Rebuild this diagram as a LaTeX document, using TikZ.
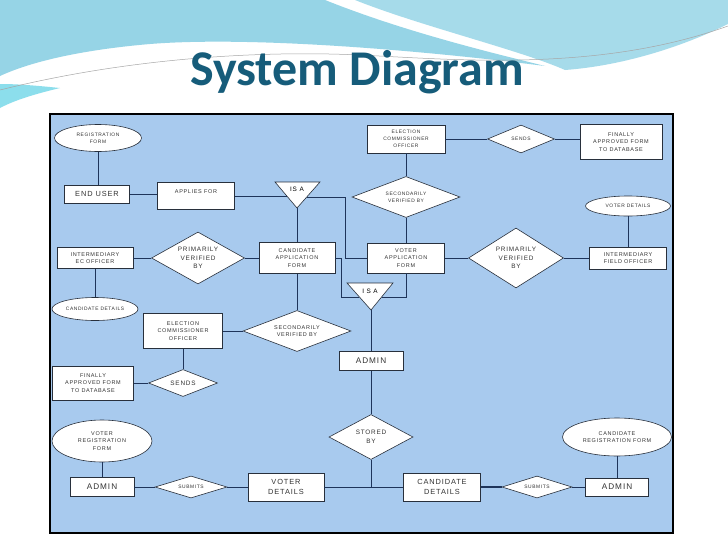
\documentclass[tikz,border=0pt]{standalone}
\usepackage{fontspec}
\setmainfont{Liberation Sans}
\newfontfamily\titlefont{Carlito}
\newfontfamily\boxfont[LetterSpace=12]{Liberation Sans}
\usetikzlibrary{shapes.geometric,calc}

\newcommand\lblfont[2]{\boxfont\fontsize{#1}{#2}\selectfont}

\definecolor{panelblue}{RGB}{168,202,238}
\definecolor{titleteal}{RGB}{22,92,122}
\definecolor{wavelight}{RGB}{150,212,230}
\definecolor{wavecyan}{RGB}{140,222,236}
\definecolor{linknavy}{RGB}{30,52,90}
\definecolor{boxedge}{RGB}{40,48,60}

\begin{document}
\begin{tikzpicture}[x=1pt,y=-1pt]
	\tikzset{
		ent/.style={rectangle, draw=boxedge, fill=white, line width=0.6pt, inner sep=0, align=center, text=black!80},
		rel/.style={diamond, draw=boxedge, fill=white, line width=0.6pt, inner sep=0, align=center, text=black!80},
		attr/.style={ellipse, draw=boxedge, fill=white, line width=0.6pt, inner sep=0, align=center, text=black!80},
		tri/.style={draw=boxedge, fill=white, line width=0.6pt},
		link/.style={draw=linknavy, line width=0.9pt},
		txtxs/.style={font=\lblfont{4.9}{6.8}},
		txts/.style={font=\lblfont{5.5}{7.5}},
		txtm/.style={font=\lblfont{6.4}{8.7}},
		txtl/.style={font=\lblfont{7.4}{9.6}},
		txtxl/.style={font=\lblfont{8.2}{10}},
	}
	\useasboundingbox (0,0) rectangle (728,546);

	% slide background
	\fill[white] (0,0) rectangle (728,546);
	\fill[wavelight] (0,0) -- (325,0) .. controls (400,30) and (480,50) .. (545,66)
		.. controls (420,50) and (250,36) .. (150,44) .. controls (80,50) and (30,62) .. (0,76) -- cycle;
	\fill[wavelight!85!white] (355,0) -- (728,0) -- (728,24) .. controls (680,48) and (620,66) .. (565,70)
		.. controls (520,50) and (420,26) .. (355,0) -- cycle;
	\fill[wavecyan] (0,84) .. controls (20,84) and (40,86) .. (60,88) .. controls (35,94) and (15,100) .. (0,108) -- cycle;
	\draw[gray!70, line width=0.5pt] (0,90) .. controls (120,60) and (250,50) .. (360,55)
		.. controls (460,60) and (600,72) .. (728,26);

	\node[font=\titlefont\bfseries\fontsize{50}{60}\selectfont, text=titleteal] (title) at (357,72) {System Diagram};

	% panel
	\draw[line width=2.8pt, fill=panelblue] (50,114) rectangle (673,533);

	% top row
	\node[attr, txtxs, minimum width=87, minimum height=27] (regform) at (98,138) {REGISTRATION\\FORM};
	\node[ent, txtl, minimum width=65, minimum height=18] (enduser) at (97,194) {END USER};
	\node[ent, txts, minimum width=77, minimum height=27, text depth=8pt] (applies) at (196,196) {APPLIES FOR};
	\node[ent, txtxs, minimum width=78, minimum height=28] (eco1) at (406,139) {ELECTION\\COMMISSIONER\\OFFICER};
	\node[rel, txtxs, minimum width=67, minimum height=28, aspect=2.4] (sends1) at (521,139) {SENDS};
	\node[ent, txts, minimum width=82, minimum height=35] (final1) at (621,142) {FINALLY\\APPROVED FORM\\TO DATABASE};
	\node[rel, txtxs, minimum width=108, minimum height=41, aspect=2.6] (secver1) at (406,197) {SECONDARILY\\VERIFIED BY};
	\node[attr, txtxs, minimum width=85, minimum height=20] (voterdet) at (628,206) {VOTER DETAILS};

	% IS A (upper)
	\coordinate (isa1tl) at (275,182);
	\coordinate (isa1tr) at (320,182);
	\coordinate (isa1b) at (297,208);
	\filldraw[tri] (isa1tl) -- (isa1tr) -- (isa1b) -- cycle;
	\node[txtm] (isa1) at (297,189) {IS A};
	\coordinate (isa1w) at ($(isa1tl)!0.54!(isa1b)$);
	\coordinate (isa1e) at ($(isa1tr)!0.58!(isa1b)$);

	% middle row
	\node[ent, txts, minimum width=76, minimum height=21] (ieco) at (95,258) {INTERMEDIARY\\EC OFFICER};
	\node[rel, txtm, minimum width=93, minimum height=52, aspect=1.8] (priver1) at (198,258) {PRIMARILY\\VERIFIED\\BY};
	\node[ent, txts, minimum width=76, minimum height=31] (candapp) at (297,258) {CANDIDATE\\APPLICATION\\FORM};
	\node[ent, txts, minimum width=77, minimum height=30] (voterapp) at (406,258) {VOTER\\APPLICATION\\FORM};
	\node[rel, txtm, minimum width=95, minimum height=60, aspect=1.6] (priver2) at (516,258) {PRIMARILY\\VERIFIED\\BY};
	\node[ent, txts, minimum width=77, minimum height=22] (ifo) at (628,258) {INTERMEDIARY\\FIELD OFFICER};
	\node[attr, txtxs, minimum width=86, minimum height=23] (canddet) at (95,309) {CANDIDATE DETAILS};

	% IS A (lower)
	\coordinate (isa2tl) at (347,283);
	\coordinate (isa2tr) at (393,283);
	\coordinate (isa2b) at (371,310);
	\filldraw[tri] (isa2tl) -- (isa2tr) -- (isa2b) -- cycle;
	\node[txtm] (isa2) at (370,291) {I S A};
	\coordinate (isa2w) at ($(isa2tl)!0.52!(isa2b)$);
	\coordinate (isa2e) at ($(isa2tr)!0.52!(isa2b)$);

	\node[ent, txts, minimum width=79, minimum height=35] (eco2) at (183,331) {ELECTION\\COMMISSIONER\\OFFICER};
	\node[rel, txts, minimum width=108, minimum height=41, aspect=2.6] (secver2) at (297,331) {SECONDARILY\\VERIFIED BY};
	\node[rel, txtm, minimum width=69, minimum height=27, aspect=2.5] (sends2) at (183,383) {SENDS};
	\node[ent, txts, minimum width=81, minimum height=34] (final2) at (93,383) {FINALLY\\APPROVED FORM\\TO DATABASE};
	\node[ent, txtxl, minimum width=64, minimum height=19] (admin1) at (371,361) {ADMIN};
	\node[rel, txtm, minimum width=84, minimum height=45, aspect=1.9] (stored) at (371,437) {STORED\\BY};

	% bottom row
	\node[attr, txts, minimum width=100, minimum height=42] (voterreg) at (102,441) {VOTER\\REGISTRATION\\FORM};
	\node[ent, txtxl, minimum width=64, minimum height=19] (admin2) at (102,487) {ADMIN};
	\node[rel, txtxs, minimum width=72, minimum height=22, aspect=3.3] (submits1) at (191,487) {SUBMITS};
	\node[ent, txtl, minimum width=76, minimum height=28] (voterrec) at (286,487) {VOTER\\DETAILS};
	\node[ent, txtl, minimum width=77, minimum height=28] (candrec) at (442,487) {CANDIDATE\\DETAILS};
	\node[rel, txtxs, minimum width=70, minimum height=22, aspect=3.2] (submits2) at (537,487) {SUBMITS};
	\node[ent, txtxl, minimum width=63, minimum height=18] (admin3) at (617,487) {ADMIN};
	\node[attr, txts, minimum width=109, minimum height=38] (candreg) at (617,437) {CANDIDATE\\REGISTRATION FORM};

	% connectors
	\draw[link] (regform.south) -- (regform.south |- enduser.north);
	\draw[link] (enduser.east) -- (enduser.east -| applies.west);
	\draw[link] (applies.east |- isa1w) -- (isa1w);
	\draw[link] (isa1b) -- (isa1b |- candapp.north);
	\draw[link] (isa1e) -| ($(voterapp.west)+(-22,0)$) -- (voterapp.west);
	\draw[link] (eco1.south) -- (secver1.north);
	\draw[link] (secver1.south) -- (voterapp.north);
	\draw[link] (eco1.east) -- (sends1.west);
	\draw[link] (sends1.east) -- (sends1.east -| final1.west);
	\draw[link] (voterdet.south) -- (ifo.north);
	\draw[link] (ieco.east) -- (priver1.west);
	\draw[link] (priver1.east) -- (candapp.west);
	\draw[link] (voterapp.east) -- (priver2.west);
	\draw[link] (priver2.east) -- (ifo.west);
	\draw[link] (ieco.south) -- (canddet.north);
	\draw[link] (candapp.south) -- (secver2.north);
	\draw[link] (candapp.east) -- ++(6,0) |- (isa2w);
	\draw[link] (voterapp.south) |- (isa2e);
	\draw[link] (isa2b) -- (admin1.north);
	\draw[link] (eco2.east) -- (secver2.west);
	\draw[link] (eco2.south) -- (sends2.north);
	\draw[link] (sends2.west) -- (final2.east);
	\draw[link] (admin1.south) -- (stored.north);
	\draw[link] (stored.south) -- (stored.south |- candrec.west);
	\draw[link] (voterrec.east) -- (candrec.west);
	\draw[link] (voterreg.south) -- (admin2.north);
	\draw[link] (admin2.east) -- (submits1.west);
	\draw[link] (submits1.east) -- (voterrec.west);
	\draw[link, line width=1.5pt] (candrec.east) -- (submits2.west);
	\draw[link] (submits2.east) -- (admin3.west);
	\draw[link] (candreg.south) -- (admin3.north);
\end{tikzpicture}
\end{document}
